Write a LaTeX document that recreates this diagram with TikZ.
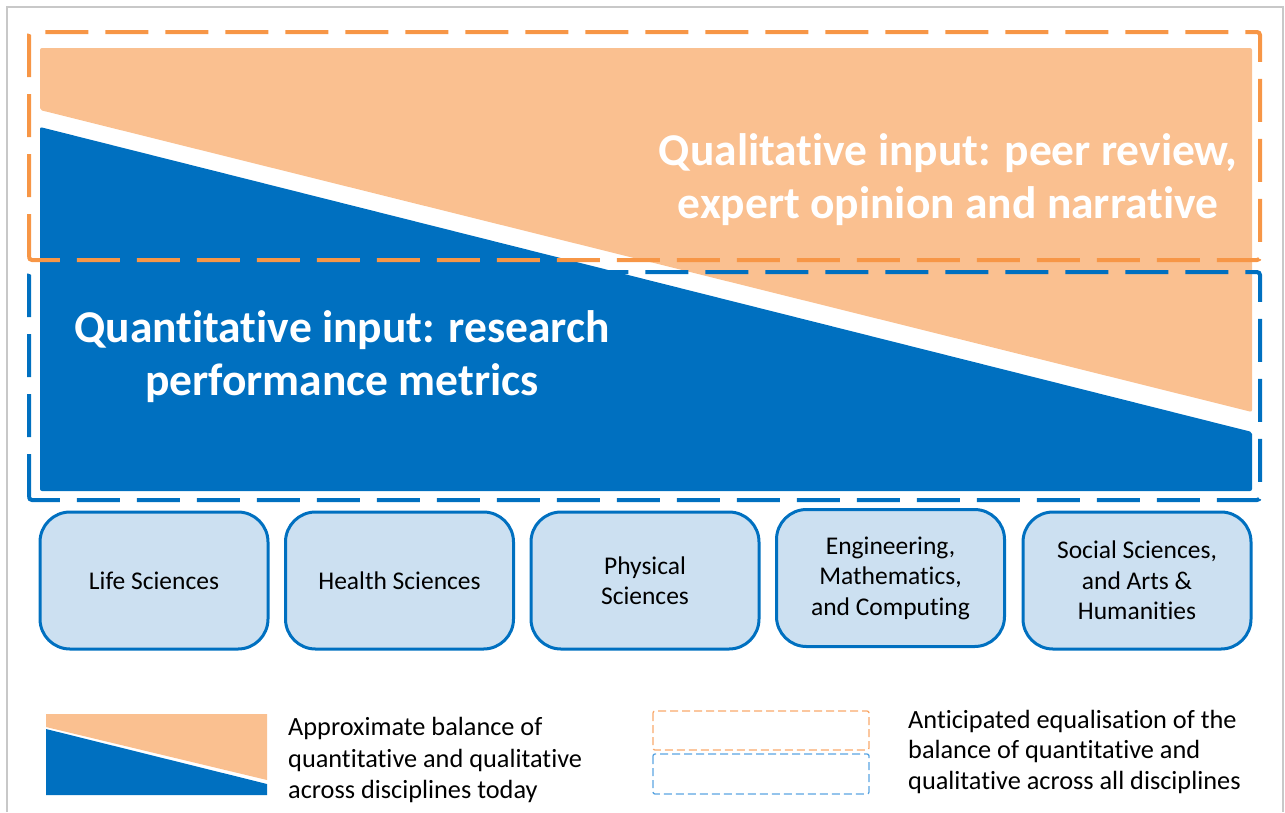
\documentclass[tikz,border=0pt]{standalone}
\usepackage{fontspec}
\setmainfont{Carlito}[RawFeature={-liga;-clig;-calt;-dlig}]
\definecolor{peach}{HTML}{FAC090}
\definecolor{dblue}{HTML}{0070C0}
\definecolor{dorange}{HTML}{F79646}
\definecolor{lblue}{HTML}{CCE0F1}
\definecolor{frame}{HTML}{C8C8C8}
\definecolor{lorange}{HTML}{F9A96C}
\definecolor{lbluedash}{HTML}{5AA5E2}
\tikzset{
  bigtext/.style={text=white, font=\bfseries\fontsize{45.5}{53}\selectfont, align=center, inner sep=0pt},
  discbox/.style={draw=dblue, line width=3pt, fill=lblue, rounded corners=30pt, minimum width=228pt, minimum height=137pt, inner sep=0pt, align=center, font=\fontsize{25.5}{30.5}\selectfont},
  bigdash/.style={line width=4pt, dash pattern=on 43pt off 17pt, rounded corners=3pt},
  smalldash/.style={line width=1.3pt, dash pattern=on 8pt off 4pt, rounded corners=2pt},
  legtext/.style={anchor=west, align=left, inner sep=0pt, font=\fontsize{26.3}{31.5}\selectfont}
}
\begin{document}
\begin{tikzpicture}[x=1pt,y=-1pt]
\useasboundingbox (0,0) rectangle (1285,812);
% frame
\draw[frame, line width=2pt] (7,812) -- (7,7) -- (1283,7) -- (1283,812);
% fills
\fill[peach, rounded corners=2pt] (40,48) -- (1252,48) -- (1252,412) -- (40,110) -- cycle;
\fill[dblue, rounded corners=2pt] (40,127) -- (1252,432) -- (1252,491) -- (40,491) -- cycle;
% dashed frames
\draw[dorange, bigdash] (29,260) -- (29,32) -- (1260,32) -- (1260,260) -- cycle;
\draw[dblue, bigdash] (29,500) -- (29,272) -- (1260,272) -- (1260,500) -- cycle;
% big texts
\node[bigtext] (qual) at (948,180) {Qualitative input: peer review,\\expert opinion and narrative};
\node[bigtext] (quant) at (342,357) {Quantitative input: research\\performance metrics};
% discipline boxes
\node[discbox] (life) at (154,580.5) {Life Sciences};
\node[discbox] (health) at (399.5,580.5) {Health Sciences};
\node[discbox] (phys) at (645,580.5) {Physical\\Sciences};
\node[discbox] (eng) at (890.5,578) {Engineering,\\Mathematics,\\and Computing};
\node[discbox] (soc) at (1137,580.5) {Social Sciences,\\and Arts \&\\Humanities};
% legend 1
\fill[peach] (46,714) -- (267,714) -- (267,780) -- (46,727) -- cycle;
\fill[dblue] (46,729) -- (267,784) -- (267,795) -- (46,795) -- cycle;
\node[legtext] (leg1) at (288,760) {Approximate balance of\\quantitative and qualitative\\across disciplines today};
% legend 2
\draw[lorange, smalldash] (653,711) rectangle (869,750);
\draw[lbluedash, smalldash] (653,754) rectangle (869,794);
\node[legtext, font=\fontsize{26.3}{30.5}\selectfont] (leg2) at (908,751.5) {Anticipated equalisation of the\\balance of quantitative and\\qualitative across all disciplines};
\end{tikzpicture}
\end{document}
